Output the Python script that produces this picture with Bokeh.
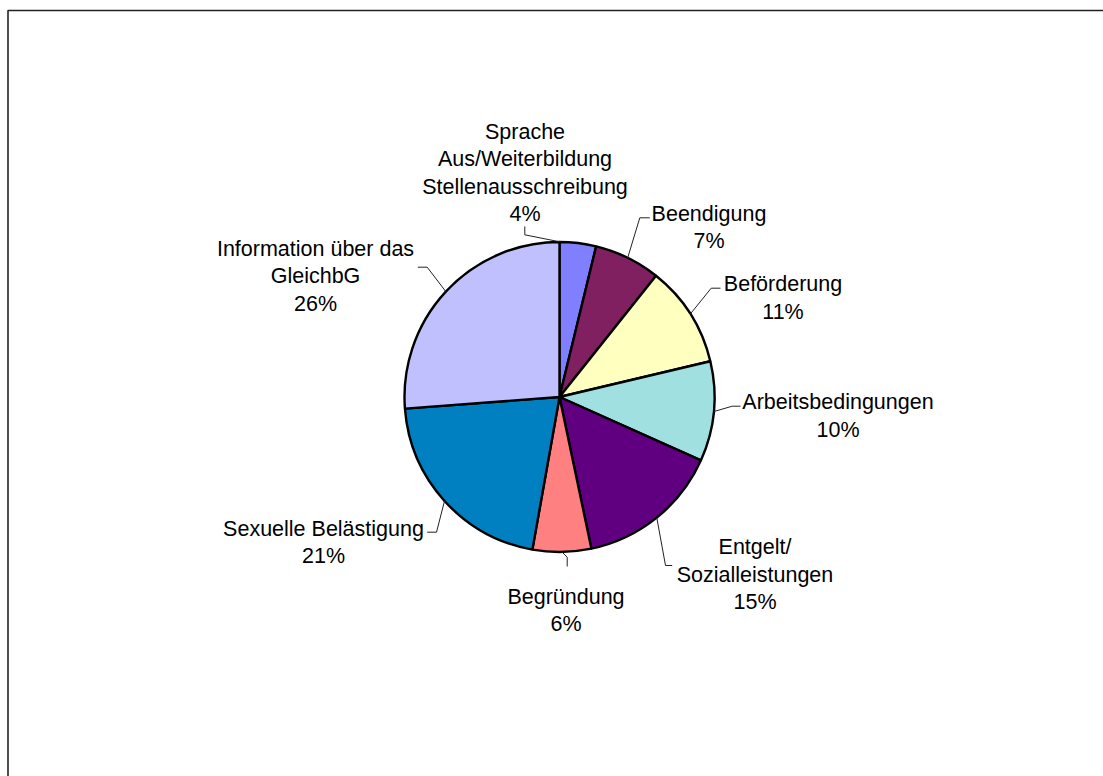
import math
from bokeh.plotting import figure
from bokeh.models import Range1d, ColumnDataSource
from bokeh.core.properties import value
from bokeh.embed import file_html
from bokeh.resources import INLINE

# ---- data ----
categories = [
    "Sprache\nAus/Weiterbildung\nStellenausschreibung",
    "Beendigung",
    "Beförderung",
    "Arbeitsbedingungen",
    "Entgelt/\nSozialleistungen",
    "Begründung",
    "Sexuelle Belästigung",
    "Information über das\nGleichbG",
]
shares = [3.8, 6.9, 10.6, 10.4, 15.0, 6.1, 21.0, 26.2]
colors = ["#8080FF", "#802060", "#FFFFC0", "#A0E0E0",
          "#600080", "#FF8080", "#0080C0", "#C0C0FF"]

# ---- layout (pixel positions, y measured from top) ----
W, H = 1103, 776
CX, CY, R = 559, 396.5, 155
label_pos = [(524.5, 131), (708.5, 213), (782.5, 283.5), (837.5, 401.7),
             (754.5, 546.7), (565.5, 596), (323, 528.3), (315, 248.3)]
LINE_H = 27.6
elbows = [
    [(524.3, 226), (524.3, 234.3)],
    [(649.3, 217.3), (639.3, 217.3)],
    [(720, 287.7), (710.7, 287.7)],
    [(740, 405.7), (731.7, 405.7)],
    [(671.7, 565), (665, 565)],
    [(566.7, 566), (566.7, 556.7)],
    [(426.7, 531.7), (436, 531.7)],
    [(417.3, 266.7), (426.7, 266.7)],
]
anchor_frac = [0.03, 0.5, 0.5, 0.5, 0.5, 0.5, 0.5, 0.5]

def fy(y):
    return H - y

p = figure(width=W, height=H, x_range=Range1d(0, W), y_range=Range1d(0, H),
           output_backend="svg", toolbar_location=None,
           min_border=0, outline_line_color=None)
p.axis.visible = False
p.grid.visible = False
p.background_fill_color = "white"
p.border_fill_color = "white"

# outer chart border
p.quad(left=[7.5], right=[W + 20], top=[fy(10)], bottom=[-20],
       fill_color=None, line_color="#222222", line_width=1.6)

total = sum(shares)
cum = 0.0
starts, ends, anchors = [], [], []
for v, f in zip(shares, anchor_frac):
    a0 = math.pi / 2 - 2 * math.pi * cum / total
    cum += v
    a1 = math.pi / 2 - 2 * math.pi * cum / total
    starts.append(a0)
    ends.append(a1)
    anchors.append(a0 + (a1 - a0) * f)

src = ColumnDataSource(dict(start=starts, end=ends, color=colors))
p.wedge(x=CX, y=fy(CY), radius=R, start_angle="start", end_angle="end",
        direction="clock", fill_color="color", line_color="black",
        line_width=2.4, source=src)

# leader lines
for m, el in zip(anchors, elbows):
    ex = CX + R * math.cos(m)
    ey = fy(CY) + R * math.sin(m)
    xs = [pt[0] for pt in el] + [ex]
    ys = [fy(pt[1]) for pt in el] + [ey]
    p.line(xs, ys, line_color="#222222", line_width=1)

# labels
tx, ty, tt = [], [], []
for cat, v, (lx, ly) in zip(categories, shares, label_pos):
    lines = cat.split("\n") + [f"{round(v)}%"]
    for i, ln in enumerate(lines):
        tx.append(lx)
        ty.append(fy(ly + i * LINE_H))
        tt.append(ln)
p.text(x=tx, y=ty, text=tt, text_font=value("Liberation Sans"),
       text_font_size="21.5px", text_align="center",
       text_baseline="alphabetic", text_color="black")

open("out.html", "w").write(file_html(p, INLINE))
